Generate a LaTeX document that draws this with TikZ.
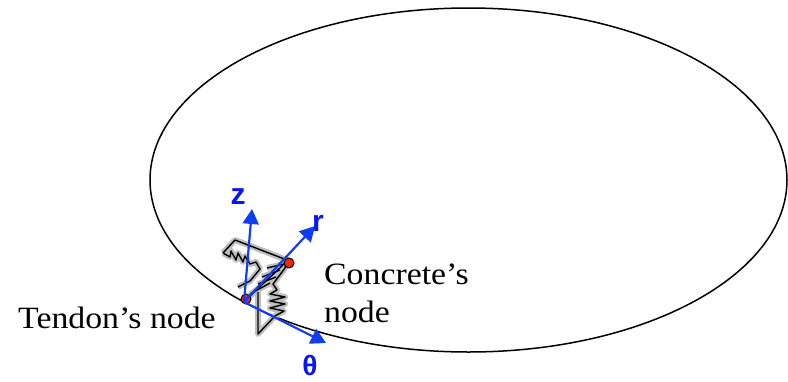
\documentclass[tikz,border=0pt]{standalone}
\usepackage{fontspec}
\setmainfont[FakeStretch=1.09]{Liberation Serif}
\newfontfamily\labfont{Liberation Sans}
\usetikzlibrary{arrows.meta}
\definecolor{axisblue}{RGB}{15,60,245}
\definecolor{labblue}{RGB}{10,20,245}
\definecolor{noder}{RGB}{240,40,10}
\definecolor{glow}{RGB}{190,190,190}
\tikzset{
  axis/.style={draw=axisblue,line width=2.2pt,-{Triangle[length=15pt,width=16pt]}},
  axislab/.style={text=labblue,font=\labfont\bfseries\fontsize{30}{30}\selectfont,inner sep=0pt},
  thetalab/.style={text=labblue,font=\labfont\bfseries\fontsize{28}{28}\selectfont,inner sep=0pt},
  caption/.style={font=\fontsize{31}{38}\selectfont,inner sep=0pt,align=left},
  dotnode/.style={circle,draw=black,fill=noder,line width=1pt,minimum size=10pt,inner sep=0pt},
  halo/.style={draw=glow,line width=6pt,line join=round},
  wire/.style={draw=black,line width=1.4pt,line join=round}
}
\newcommand{\linkage}[1]{
  \draw[#1] (223,253) -- (235,240) -- (287,260) -- (285,268) -- (273,284) -- (277,290)
    -- (270,294) -- (285,297) -- (270,301) -- (285,304) -- (270,308) -- (284,311) -- (275,316) -- (258,334) -- (258,292);
  \draw[#1] (223,253) -- (230,257) -- (231,251) -- (236,260) -- (238,253) -- (243,262) -- (245,256) -- (250,264) -- (256,262) -- (260,269) -- (250,281) -- (238,287);
  \draw[#1] (267,268) -- (284,264);
  \draw[#1] (262,277) -- (280,270);
  \draw[#1] (258,284) -- (276,277);
  \draw[#1] (250,294) -- (270,283);
  \draw[#1] (284,264) -- (250,296);
}
\begin{document}
\begin{tikzpicture}[x=1pt,y=-1pt]
\useasboundingbox (0,0) rectangle (788,381);
\draw[black,line width=1.5pt] (468.5,180) ellipse [x radius=318.5,y radius=172];
\linkage{halo}
\linkage{wire}
\node[dotnode] (tendon) at (246,299) {};
\node[dotnode] (concrete) at (289,263) {};
\coordinate (origin) at (244,302);
\coordinate (ztip) at (252,209);
\coordinate (rtip) at (315,226);
\coordinate (ttip) at (326,343);
\draw[axis] (origin) -- (ztip);
\draw[axis] (origin) -- (rtip);
\draw[axis] (origin) -- (ttip);
\node[axislab] (zlab) at (238,197) {z};
\node[axislab] (rlab) at (318,223) {r};
\node[thetalab] (tlab) at (310,365) {θ};
\node[caption,anchor=base west] (tn) at (18,328) {Tendon’s node};
\node[caption,anchor=north west] (cn) at (324,264) {Concrete’s\\node};
\end{tikzpicture}
\end{document}
